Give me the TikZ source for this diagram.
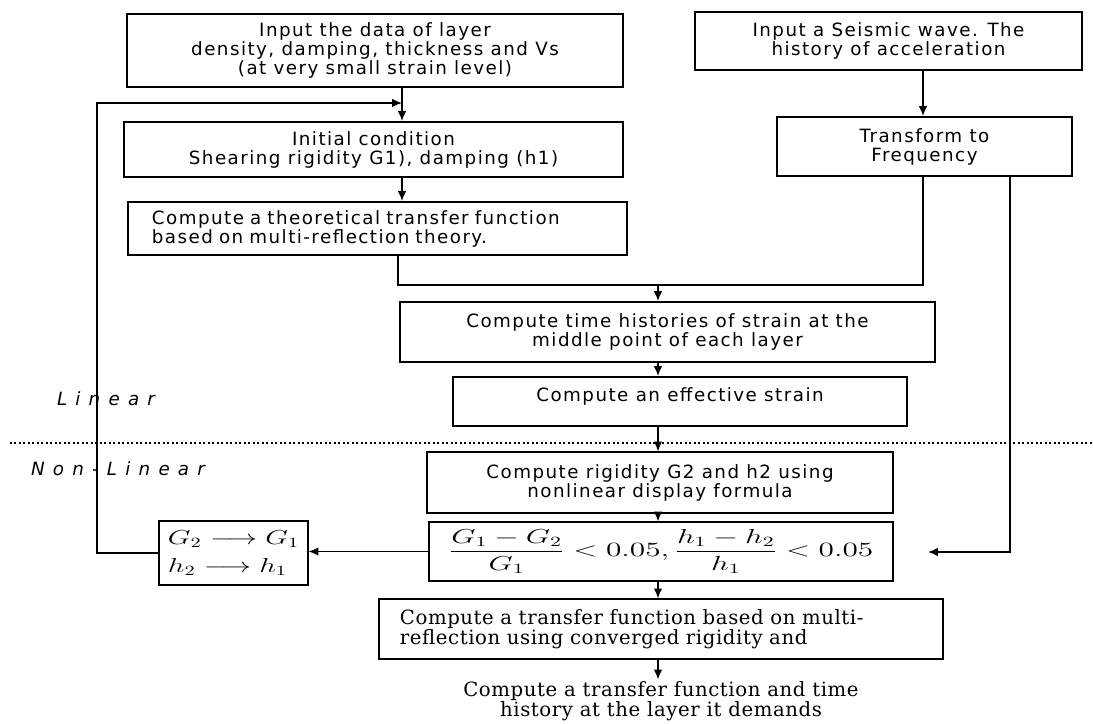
\documentclass[tikz,border=0pt]{standalone}
\usepackage{amsmath}
\usepackage{fontspec}
\usepackage{xcolor}
\usepackage{tikz}
\usetikzlibrary{calc, shapes, arrows, arrows.meta, positioning}
\newfontfamily\ramkafont[LetterSpace=8]{DejaVu Sans}
\newfontfamily\szeryffont[LetterSpace=3]{DejaVu Serif}
\newfontfamily\opisfont[LetterSpace=45]{DejaVu Sans}

\begin{document}
\begin{tikzpicture}[x=0.025cm, y=-0.025cm,
		gruba/.style={draw, line width=1.4pt, align=center, inner sep=2pt, font=\ramkafont\fontsize{13}{13.5}\selectfont},
		cienka/.style={draw, line width=0.9pt, align=center, inner sep=2pt, font=\ramkafont\fontsize{13}{13.5}\selectfont},
		szeryf/.style={font=\szeryffont\fontsize{14}{14.5}\selectfont},
		opis/.style={font=\opisfont\itshape\fontsize{13}{14}\selectfont},
		strz/.style={draw, -{Latex[length=7pt,width=6pt]}, line width=0.9pt},
		linia/.style={draw, line width=0.9pt}]
		\useasboundingbox (0,0) rectangle (1093,724);
		% linear part
		\node[gruba, minimum width=12.4cm, minimum height=1.825cm] (dane) at (375,50.5) {Input the data of layer\\ density, damping, thickness and Vs\\ (at very small strain level)};
		\node[gruba, minimum width=9.675cm, minimum height=1.45cm] (fala) at (888.5,41) {Input a Seismic wave. The\\ history of acceleration};
		\node[gruba, minimum width=12.475cm, minimum height=1.375cm] (warunek) at (373.5,149.5) {Initial condition\\ Shearing rigidity G1), damping (h1)};
		\node[gruba, align=left, inner xsep=0.6cm, text width=11.275cm, minimum height=1.325cm] (teoria) at (377.5,228.5) {Compute a theoretical transfer function\\ based on multi-reflection theory.};
		\node[gruba, minimum width=7.375cm, minimum height=1.475cm] (transformata) at (924.5,146.5) {Transform to\\ Frequency};
		\node[gruba, minimum width=13.375cm, minimum height=1.5cm] (historie) at (667.5,332) {Compute time histories of strain at the\\ middle point of each layer};
		\node[gruba, minimum width=11.35cm, minimum height=1.225cm] (odksztalcenie) at (680,401.5) {Compute an effective strain\\[-4pt]\mbox{}};
		% non-linear part
		\node[cienka, minimum width=11.65cm, minimum height=1.525cm] (sztywnosc) at (660,482.5) {Compute rigidity G2 and h2 using\\ nonlinear display formula};
		\node[cienka, minimum width=11.6cm, minimum height=1.475cm, font=\fontsize{14}{16}\selectfont] (zbieznosc) at (661,551.5) {\scalebox{1.55}[1]{$\dfrac{G_1-G_2}{G_1} < 0.05,\dfrac{h_1-h_2}{h_1} < 0.05$}};
		\node[cienka, align=left, inner xsep=0.225cm, text width=3.275cm, minimum height=1.6cm, font=\fontsize{14}{20}\selectfont] (zamiana) at (233.5,553) {\scalebox{1.45}[1]{$G_2 \longrightarrow G_1$}\\ \scalebox{1.45}[1]{$h_2 \longrightarrow h_1$}};
		\node[cienka, szeryf, align=left, inner xsep=0.525cm, text width=13.05cm, minimum height=1.5cm] (funkcja) at (661,629) {Compute a transfer function based on multi-\\ reflection using converged rigidity and};
		\node[szeryf, align=center, inner sep=1pt] (wynik) at (661,701) {Compute a transfer function and time\\ history at the layer it demands};
		% labels and divider
		\node[opis] (liniowy) at (106,399) {Linear};
		\node[opis] (nieliniowy) at (118,469) {Non-Linear};
		\draw[dotted, line width=1.2pt] (10,443) -- (1093,443);
		% connectors
		\coordinate (fb) at (402,103);
		\coordinate (fbl) at (97,103);
		\coordinate (tl) at (398,285);
		\coordinate (mrg) at (658,285);
		\coordinate (tr) at (923,285);
		\coordinate (rc) at (1010,552);
		\coordinate (rt) at (928,552);
		\path[strz] (dane.south -| fb) -- (warunek.north -| fb);
		\path[strz] (warunek.south -| fb) -- (teoria.north -| fb);
		\path[linia] (teoria.south -| tl) -- (tl) -- (tr) -- (transformata.south -| tr);
		\path[strz] (mrg) -- (historie.north -| mrg);
		\path[strz] (fala.south -| tr) -- (transformata.north -| tr);
		\path[strz] (historie.south -| mrg) -- (odksztalcenie.north -| mrg);
		\path[strz] (odksztalcenie.south -| mrg) -- (sztywnosc.north -| mrg);
		\path[strz] (sztywnosc.south -| mrg) -- (zbieznosc.north -| mrg);
		\path[strz] (zbieznosc.south -| mrg) -- (funkcja.north -| mrg);
		\path[strz] (funkcja.south -| mrg) -- (wynik.north -| mrg);
		\path[strz] (zbieznosc.west) -- (zbieznosc.west -| zamiana.east);
		\path[strz] (zamiana.west) -| (fbl) -- (fb);
		\path[strz] (transformata.south -| rc) |- (rt);
	\end{tikzpicture}
\end{document}
